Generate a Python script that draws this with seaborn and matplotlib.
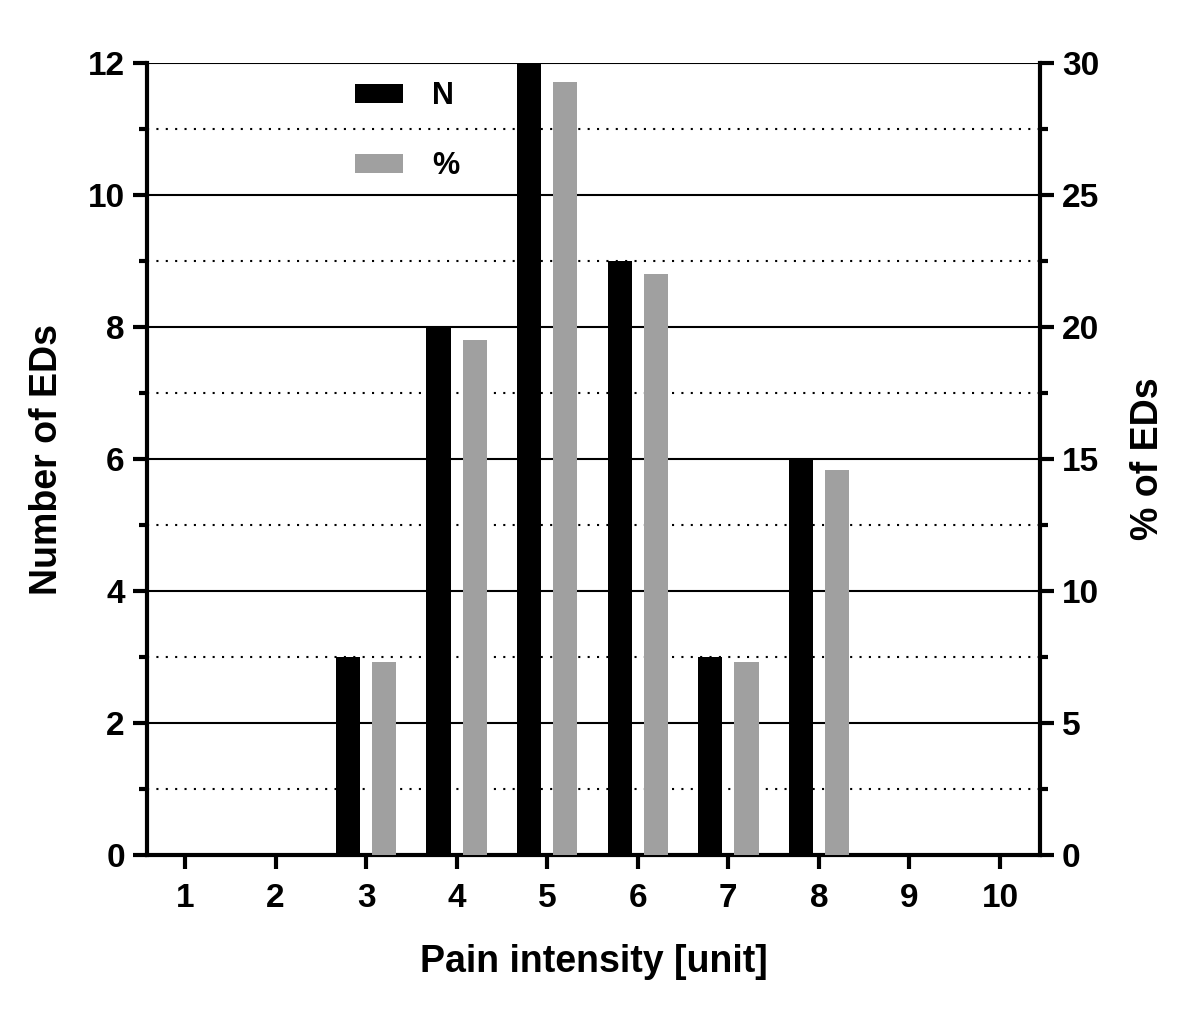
import pandas as pd
import numpy as np
import matplotlib
matplotlib.use("Agg")
import matplotlib.pyplot as plt
import seaborn as sns
from matplotlib.ticker import MultipleLocator
from matplotlib.patches import Patch

# Datos
intensity = [1, 2, 3, 4, 5, 6, 7, 8, 9, 10]
n_eds = [0, 0, 3, 8, 12, 9, 3, 6, 0, 0]
pct_eds = [0, 0, 7.3, 19.5, 29.3, 22.0, 7.3, 14.6, 0, 0]

sns.set_theme(style="white")
plt.rcParams['font.family'] = ['Liberation Sans', 'DejaVu Sans']
plt.rcParams['font.weight'] = 'bold'
plt.rcParams['text.color'] = 'black'
plt.rcParams['axes.labelcolor'] = 'black'
plt.rcParams['xtick.color'] = 'black'
plt.rcParams['ytick.color'] = 'black'

df = pd.DataFrame({
    "intensity": intensity * 2,
    "series": ["N"] * len(intensity) + ["%"] * len(intensity),
    "value": n_eds + pct_eds,
})
palette = {"N": "black", "%": "#a0a0a0"}
order = ["N", "%"]

fig = plt.figure(figsize=(12, 10.18), dpi=100)
ax = fig.add_axes([0.1225, 0.160, 0.744, 0.778])
ax2 = ax.twinx()

sns.barplot(data=df[df.series == "N"], x="intensity", y="value", hue="series",
            hue_order=order, palette=palette, dodge=True, gap=0.33,
            ax=ax, zorder=3, legend=False, linewidth=0)
sns.barplot(data=df[df.series == "%"], x="intensity", y="value", hue="series",
            hue_order=order, palette=palette, dodge=True, gap=0.33,
            ax=ax2, zorder=3, legend=False, linewidth=0)

ax.set_xlim(-0.42, 9.44)
ax.set_ylim(0, 12)
ax2.set_ylim(0, 30)

# Rejilla: continua en los mayores, punteada en los menores
ax.yaxis.set_major_locator(MultipleLocator(2))
ax.yaxis.set_minor_locator(MultipleLocator(1))
ax2.yaxis.set_major_locator(MultipleLocator(5))
ax2.yaxis.set_minor_locator(MultipleLocator(2.5))
ax.grid(False)
ax2.grid(False)
ax.set_axisbelow(True)
ax.grid(which="major", axis="y", color="black", linewidth=1.5, linestyle="-")
ax.grid(which="minor", axis="y", color="black", linewidth=1.5, linestyle=(0, (1, 3.5)))

for a in (ax, ax2):
    a.spines["top"].set_visible(False)
    for s in ("left", "right", "bottom"):
        a.spines[s].set_linewidth(3)
        a.spines[s].set_color("black")
ax.spines["right"].set_visible(False)
ax2.spines["left"].set_visible(False)
ax2.spines["bottom"].set_visible(False)

ax.tick_params(axis="y", which="major", direction="out", length=10, width=3,
               labelsize=24, pad=6, left=True)
ax.tick_params(axis="y", which="minor", direction="out", length=6, width=3, left=True)
ax.tick_params(axis="x", which="major", direction="out", length=10, width=3,
               labelsize=24, pad=10, bottom=True)
ax2.tick_params(axis="y", which="major", direction="out", length=10, width=3,
                labelsize=24, pad=6, right=True)
ax2.tick_params(axis="y", which="minor", direction="out", length=6, width=3, right=True)
for lab in ax.get_xticklabels() + ax.get_yticklabels() + ax2.get_yticklabels():
    lab.set_fontweight("bold")

ax.set_xlabel("Pain intensity [unit]", fontsize=27, fontweight="bold", labelpad=22)
ax.set_ylabel("Number of EDs", fontsize=27, fontweight="bold", labelpad=16)
ax2.set_ylabel("% of EDs", fontsize=27, fontweight="bold", labelpad=22)

# Leyenda
handles = [Patch(facecolor=palette[k], edgecolor="none") for k in order]
leg = ax.legend(handles, order, loc="upper left", bbox_to_anchor=(0.202, 1.012),
                frameon=False, fontsize=22, handlelength=1.57, handleheight=0.56,
                labelspacing=1.32, handletextpad=0.95)
for t in leg.get_texts():
    t.set_fontweight("bold")

fig.savefig("out.png", dpi=100)
